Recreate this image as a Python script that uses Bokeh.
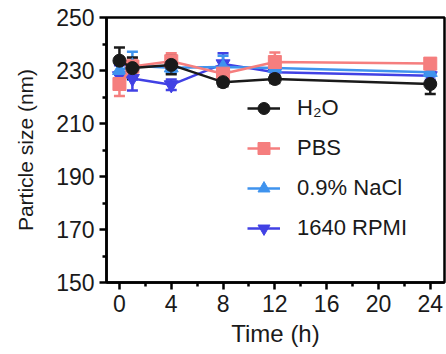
from bokeh.plotting import figure
from bokeh.models import ColumnDataSource, Whisker, TeeHead, Legend, LegendItem, FixedTicker, Range1d
from bokeh.embed import file_html
from bokeh.resources import INLINE

time_h = [0, 1, 4, 8, 12, 24]
h2o = [233.7, 230.9, 232.1, 225.6, 226.8, 224.9]
h2o_err = [5.0, 4.0, 3.5, 1.5, 1.5, 3.8]
pbs = [224.9, 231.5, 233.5, 228.8, 233.2, 232.6]
pbs_err = [4.5, 3.0, 3.0, 2.0, 3.6, 2.0]
nacl = [230.0, 231.8, 231.0, 231.3, 230.9, 229.3]
nacl_err = [3.0, 5.3, 2.0, 4.3, 1.5, 1.5]
rpmi = [228.0, 227.0, 224.6, 232.5, 229.3, 228.0]
rpmi_err = [4.0, 4.5, 2.0, 4.0, 1.5, 1.5]

series = [
    ("1640 RPMI", rpmi, rpmi_err, "#4141E4", "inverted_triangle", 14),
    ("0.9% NaCl", nacl, nacl_err, "#3F93EE", "triangle", 14),
    ("PBS", pbs, pbs_err, "#F57E7E", "square", 13),
    ("H\u2082O", h2o, h2o_err, "#1A1A1A", "circle", 13),
]
legend_order = ["H\u2082O", "PBS", "0.9% NaCl", "1640 RPMI"]

FONT = "Liberation Sans"

p = figure(width=446, height=354, output_backend="svg", toolbar_location=None,
           x_range=Range1d(-1.0, 25.1), y_range=Range1d(150, 250),
           min_border_left=106, min_border_right=2, min_border_top=17, min_border_bottom=72)

p.xgrid.visible = False
p.ygrid.visible = False
p.outline_line_color = "black"
p.outline_line_width = 2.5
p.background_fill_color = "white"
p.border_fill_color = "white"

items = {}
for name, vals, errs, color, marker, size in series:
    src = ColumnDataSource(dict(x=time_h, y=vals,
                                upper=[v + e for v, e in zip(vals, errs)],
                                lower=[v - e for v, e in zip(vals, errs)]))
    w = Whisker(source=src, base="x", upper="upper", lower="lower",
                line_color=color, line_width=2.5,
                upper_head=TeeHead(size=11, line_color=color, line_width=2.5),
                lower_head=TeeHead(size=11, line_color=color, line_width=2.5))
    p.add_layout(w)
    ln = p.line("x", "y", source=src, line_color=color, line_width=2.5)
    sc = p.scatter("x", "y", source=src, marker=marker, size=size,
                   fill_color=color, line_color=color)
    items[name] = LegendItem(label=name, renderers=[ln, sc])

legend = Legend(items=[items[n] for n in legend_order], location=(141, 39),
                background_fill_alpha=0, border_line_alpha=0,
                padding=0, margin=0, spacing=10,
                glyph_width=33, glyph_height=30, label_height=30,
                label_standoff=17, label_text_font=FONT,
                label_text_font_size="22px", label_text_color="#1a1a1a")
p.add_layout(legend, "center")

for ax in (p.xaxis[0], p.yaxis[0]):
    ax.axis_line_width = 2.5
    ax.major_tick_line_width = 2.5
    ax.minor_tick_line_width = 2.5
    ax.major_tick_out = 7
    ax.major_tick_in = 0
    ax.minor_tick_out = 4
    ax.minor_tick_in = 0
    ax.major_label_text_font = FONT
    ax.major_label_text_font_size = "23px"
    ax.major_label_text_color = "#1a1a1a"
    ax.axis_label_text_font = FONT
    ax.axis_label_text_font_style = "normal"
    ax.axis_label_text_color = "#1a1a1a"

p.xaxis.axis_label_text_font_size = "24px"
p.yaxis.axis_label_text_font_size = "21px"

p.xaxis.ticker = FixedTicker(ticks=[0, 4, 8, 12, 16, 20, 24],
                             minor_ticks=[2, 6, 10, 14, 18, 22])
p.yaxis.ticker = FixedTicker(ticks=[150, 170, 190, 210, 230, 250],
                             minor_ticks=[160, 180, 200, 220, 240])
p.xaxis.axis_label = "Time (h)"
p.yaxis.axis_label = "Particle size (nm)"
p.xaxis.major_label_standoff = 5
p.yaxis.major_label_standoff = 5
p.xaxis.axis_label_standoff = 5
p.yaxis.axis_label_standoff = 16

open("out.html", "w").write(file_html(p, INLINE))
